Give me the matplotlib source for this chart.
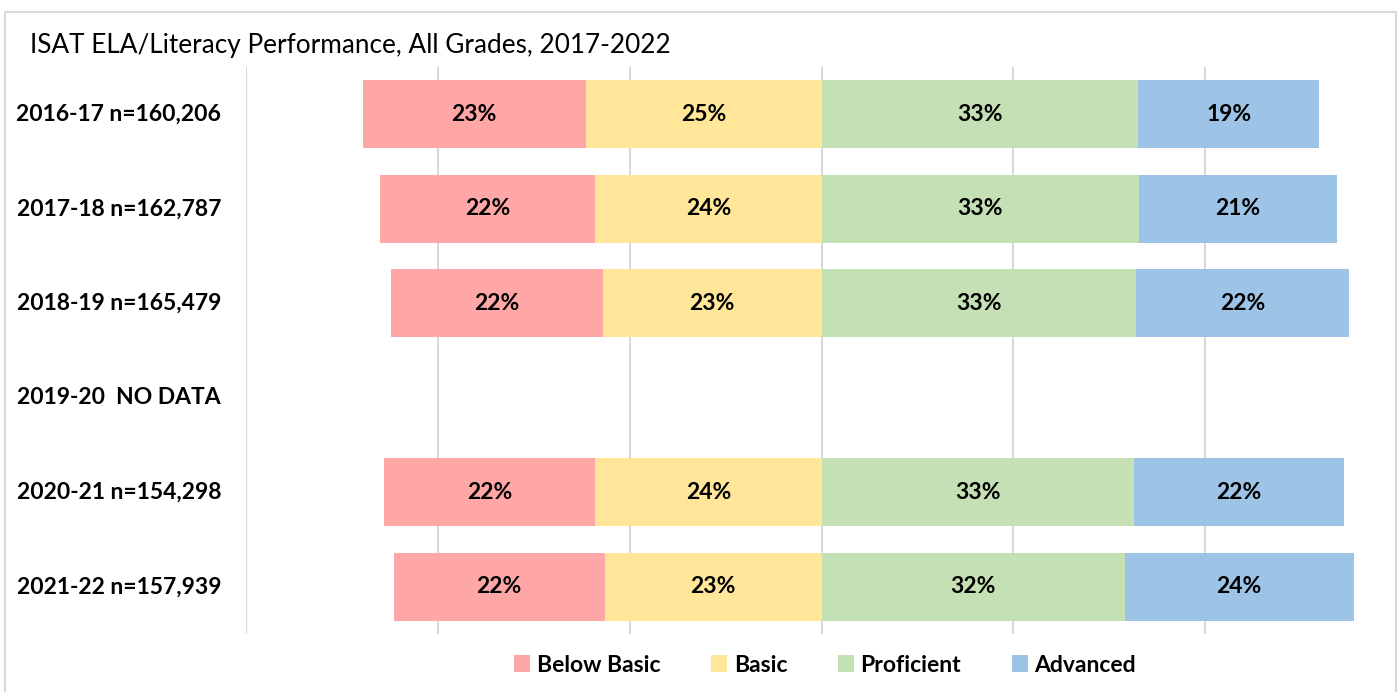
import numpy as np
import matplotlib.pyplot as plt
from matplotlib.patches import Rectangle, Patch

plt.rcParams['font.family'] = ['Lato', 'DejaVu Sans']

# Row labels (top to bottom); 2019-20 has no data
rows = ['2016-17 n=160,206', '2017-18 n=162,787', '2018-19 n=165,479',
        '2019-20  NO DATA', '2020-21 n=154,298', '2021-22 n=157,939']
levels = ['Below Basic', 'Basic', 'Proficient', 'Advanced']
colors = ['#FFA7A7', '#FFE699', '#C5E0B4', '#9DC3E6']

# percentages (NaN = no data)
below_basic = [23.2, 22.4, 22.1, np.nan, 22.0, 22.0]
basic = [24.6, 23.6, 22.8, np.nan, 23.6, 22.6]
proficient = [33.0, 33.1, 32.8, np.nan, 32.6, 31.6]
advanced = [18.9, 20.6, 22.2, np.nan, 21.9, 23.9]

fig = plt.figure(figsize=(13.98, 6.92), dpi=100)
ax_top, ax_bot = 67, 634
ax = fig.add_axes([246 / 1398, 1 - ax_bot / 692, (1397 - 246) / 1398, (ax_bot - ax_top) / 692])

y = np.arange(len(rows))
bb = np.array(below_basic)
ba = np.array(basic)
pr = np.array(proficient)
ad = np.array(advanced)

# diverging stack: below basic + basic left of 0, proficient + advanced right of 0
segments = [(-(bb + ba), bb), (-ba, ba), (np.zeros_like(pr), pr), (pr, ad)]
for (left, width), c in zip(segments, colors):
    for i in range(len(rows)):
        if np.isnan(width[i]):
            continue
        ax.barh(y[i], width[i], left=left[i], height=0.72, color=c,
                edgecolor='none', zorder=3)
        ax.text(left[i] + width[i] / 2, y[i], f'{width[i]:.0f}%',
                ha='center', va='center', fontsize=16.5, fontweight='bold',
                zorder=4)

ax.set_xlim(-60, 60)
ax.set_ylim(len(rows) - 0.5, -0.5)
ax.set_xticks(np.arange(-60, 61, 20))
ax.set_xticklabels([])
ax.set_yticks([])
ax.tick_params(length=0)
ax.grid(axis='x', color='#D9D9D9', lw=1.5, zorder=0)
for s in ['top', 'right', 'bottom', 'left']:
    ax.spines[s].set_visible(False)

# row labels, right aligned to the left of the plot area
row_h = (ax_bot - ax_top) / len(rows)
for i, lab in enumerate(rows):
    fig.text(221 / 1398, 1 - (ax_top + row_h * (i + 0.5)) / 692, lab,
             ha='right', va='center', fontsize=16.5, fontweight='bold')

fig.text(30 / 1398, 1 - 45 / 692, 'ISAT ELA/Literacy Performance, All Grades, 2017-2022',
         ha='left', va='center', fontsize=18.8)

handles = [Patch(facecolor=c, edgecolor='none') for c in colors]
fig.legend(handles, levels, loc='center', bbox_to_anchor=(825 / 1398, 1 - 665 / 692),
           ncol=4, frameon=False, prop={'size': 16.5, 'weight': 'bold'},
           handlelength=0.7, handleheight=0.7, handletextpad=0.3, columnspacing=2.2)

# outer chart border
fig.patches.append(Rectangle((5 / 1398, -0.05), (1396 - 5) / 1398, 1.05 - 12 / 692,
                             transform=fig.transFigure, fill=False,
                             edgecolor='#D9D9D9', lw=1.5))

fig.savefig('out.png', dpi=100)
